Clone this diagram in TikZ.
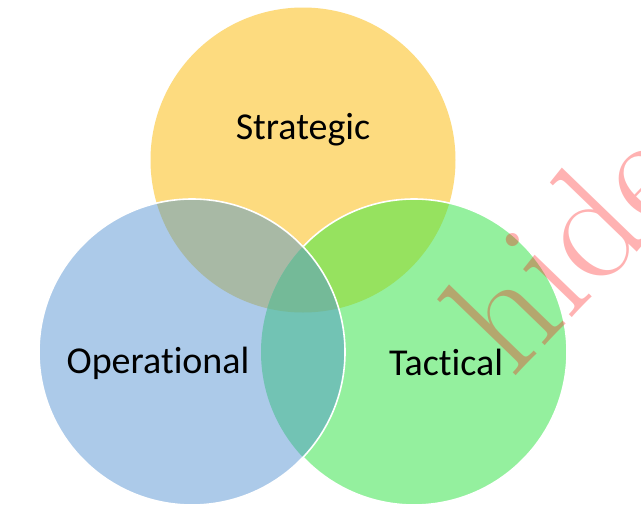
\documentclass[tikz,border=0pt]{standalone}
\usepackage{fontspec}
\setmainfont{Carlito}[Ligatures={NoCommon}]
\definecolor{cY}{RGB}{253,219,127}
\definecolor{cB}{RGB}{172,202,233}
\definecolor{cG}{RGB}{148,240,158}
\definecolor{cYB}{RGB}{168,185,165}
\definecolor{cYG}{RGB}{150,226,95}
\definecolor{cGB}{RGB}{114,195,180}
\definecolor{cYGB}{RGB}{116,186,152}
\begin{document}
\begin{tikzpicture}[x=1pt,y=-1pt,
  lbl/.style={font=\fontsize{38}{44}\selectfont, text=black},
  edge/.style={draw=white, line width=1.6pt}]
\useasboundingbox (0,0) rectangle (641,517);
\fill[white] (0,0) rectangle (641,517);
\def\cS{(303,160) circle[radius=152.5]}
\def\cO{(192,352) circle[radius=153]}
\def\cT{(414,352) circle[radius=153]}
% yellow
\fill[cY] \cS;
% green
\fill[cG] \cT;
\begin{scope}\clip \cS; \fill[cYG] \cT; \end{scope}
\draw[edge] \cT;
% blue
\fill[cB] \cO;
\begin{scope}\clip \cO; \fill[cYB] \cS; \end{scope}
\begin{scope}\clip \cO; \fill[cGB] \cT; \end{scope}
\begin{scope}\clip \cO; \clip \cT; \fill[cYGB] \cS; \end{scope}
\draw[edge] \cO;
% labels
\node[lbl] (s) at (303,130) {Strategic};
\node[lbl] (o) at (158,363) {Operational};
\node[lbl] (t) at (446,362) {Tactical};
% watermark
\begin{scope}
\clip (0,0) rectangle (641,517);
\node[anchor=base west, inner sep=0pt, rotate=46, text=red, text opacity=0.3,
  font=\fontspec{Latin Modern Roman 10 Regular}\fontsize{160}{170}\selectfont] (w) at (512,380) {hide};
\end{scope}
\end{tikzpicture}
\end{document}
